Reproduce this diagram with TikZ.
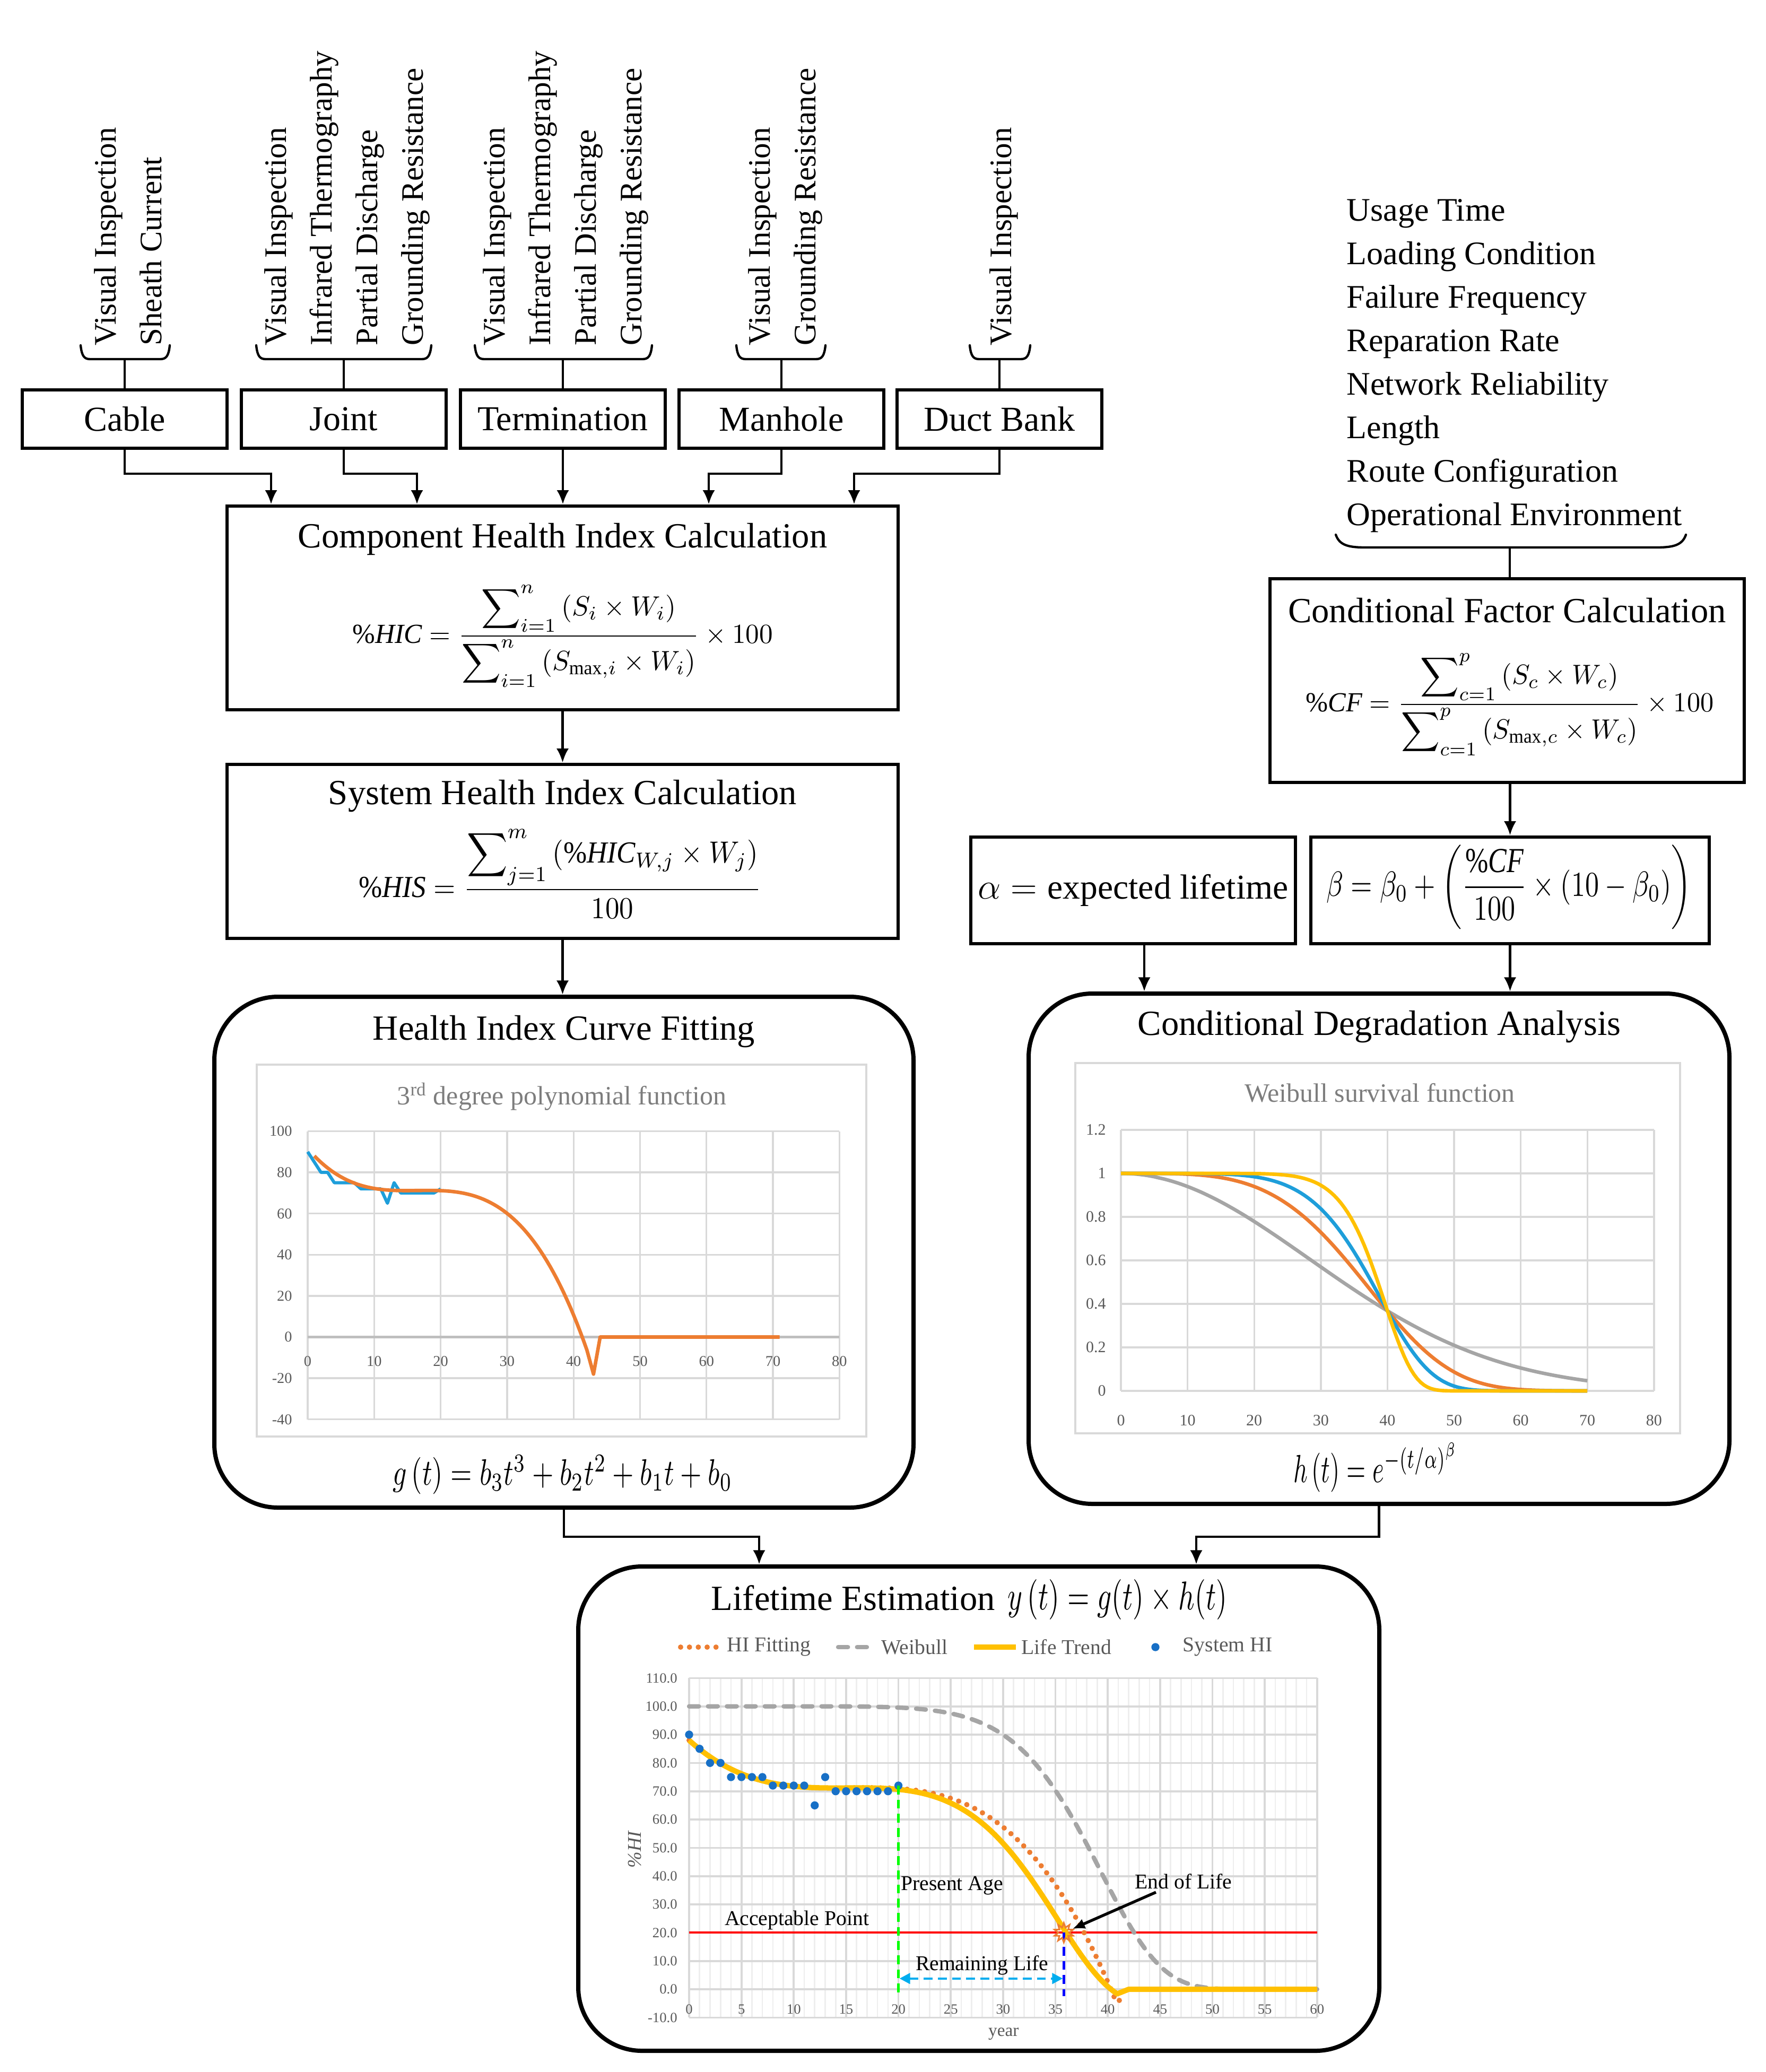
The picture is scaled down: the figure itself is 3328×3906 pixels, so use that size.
\documentclass[tikz,border=0pt]{standalone}
\usepackage{amsmath}
\usepackage{graphicx}
\usepackage{fontspec}
\setmainfont{Liberation Serif}
\usetikzlibrary{arrows.meta,shapes.geometric,calc}
\definecolor{gridc}{RGB}{217,217,217}
\definecolor{gridm}{RGB}{238,238,238}
\definecolor{axc}{RGB}{191,191,191}
\definecolor{txtg}{RGB}{89,89,89}
\definecolor{titg}{RGB}{125,125,125}
\definecolor{xlorange}{RGB}{237,125,49}
\definecolor{xlblue}{RGB}{30,158,218}
\definecolor{xlgray}{RGB}{165,165,165}
\definecolor{xlyellow}{RGB}{255,192,0}
\definecolor{dotblue}{RGB}{24,112,198}
\newcommand{\mybrace}[5]{\draw[brc] (#1,#3) .. controls (#1+0.12*#5,#4-5) and (#1+0.4*#5,#4) .. (#1+#5,#4) -- (#2-#5,#4) .. controls (#2-0.4*#5,#4) and (#2-0.12*#5,#4-5) .. (#2,#3);}
\begin{document}
\begin{tikzpicture}[x=0.3pt,y=-0.3pt,
  box/.style={draw, line width=2pt, inner sep=0pt, font=\fontsize{19.8}{24}\selectfont},
  rbox/.style={draw, line width=2.4pt, rounded corners=36pt, inner sep=0pt},
  conn/.style={line width=1.3pt},
  arr/.style={line width=1.3pt, -{Latex[length=8pt,width=7pt]}},
  brc/.style={line width=1.3pt, line cap=round},
  rot/.style={rotate=90, anchor=west, align=left, inner sep=0pt, font=\fontsize{17.7}{25.8}\selectfont},
  ttl/.style={inner sep=0pt, font=\fontsize{20}{24}\selectfont},
  ctitle/.style={inner sep=0pt, text=titg, font=\fontsize{15}{18}\selectfont},
  tickh/.style={inner sep=0pt, text=txtg, font=\fontsize{8.5}{10}\selectfont},
  ticke/.style={inner sep=0pt, text=txtg, font=\fontsize{8}{10}\selectfont},
  ann/.style={inner sep=0pt, font=\fontsize{11.9}{14}\selectfont},
  leg/.style={inner sep=0pt, text=txtg, font=\fontsize{11.9}{14}\selectfont, anchor=west},
  hifit/.style={xlorange, line width=3pt, line cap=round, dash pattern=on 0pt off 5pt},
  wbl/.style={xlgray, line width=2.5pt, line cap=round, dash pattern=on 5.5pt off 5.2pt},
  yel/.style={xlyellow, line width=3pt, line join=round},
  declare function={gf(\t)=((-0.0047083*\t+0.21875)*\t-3.34167)*\t+88;
                    wb(\t,\b)=exp(-min(9,exp(max(-9,\b*ln(max(\t,0.01)/40)))));}
]
\useasboundingbox (0,0) rectangle (3328,3906);

% ---------- top component boxes ----------
\node[box, minimum width=115.8pt, minimum height=33pt] (cable) at (235,790) {Cable};
\node[box, minimum width=115.8pt, minimum height=33pt] (joint) at (648,790) {Joint};
\node[box, minimum width=115.8pt, minimum height=33pt] (term) at (1061,790) {Termination};
\node[box, minimum width=115.8pt, minimum height=33pt] (manh) at (1473,790) {Manhole};
\node[box, minimum width=115.8pt, minimum height=33pt] (duct) at (1884,790) {Duct Bank};

% rotated inspection lists
\node[rot] (ins1) at (241,652) {Visual Inspection\\Sheath Current};
\node[rot] (ins2) at (654,652) {Visual Inspection\\Infrared Thermography\\Partial Discharge\\Grounding Resistance};
\node[rot] (ins3) at (1066,652) {Visual Inspection\\Infrared Thermography\\Partial Discharge\\Grounding Resistance};
\node[rot] (ins4) at (1480,652) {Visual Inspection\\Grounding Resistance};
\node[rot] (ins5) at (1892,652) {Visual Inspection};

\mybrace{152}{320}{651}{677}{18}
\mybrace{483}{813}{651}{677}{18}
\mybrace{895}{1229}{651}{677}{18}
\mybrace{1388}{1556}{651}{677}{18}
\mybrace{1828}{1942}{651}{677}{18}
\coordinate (bb1) at (235,677);
\coordinate (bb2) at (648,677);
\coordinate (bb3) at (1061,677);
\coordinate (bb4) at (1473,677);
\coordinate (bb5) at (1884,677);
\draw[conn] (cable.north) -- (bb1);
\draw[conn] (joint.north) -- (bb2);
\draw[conn] (term.north) -- (bb3);
\draw[conn] (manh.north) -- (bb4);
\draw[conn] (duct.north) -- (bb5);

% ---------- component HI box ----------
\node[box, minimum width=379.5pt, minimum height=115.2pt] (comp) at (1060.5,1146) {};
\node[ttl] (tcomp) at (1060.5,1016) {Component Health Index Calculation};
\node[inner sep=0pt] (fcomp) at (1061,1199) {\resizebox*{237.6pt}{57.6pt}{$\%\mathit{HIC}=\dfrac{\displaystyle\sum\nolimits_{i=1}^{n}\left(S_i\times W_i\right)}{\displaystyle\sum\nolimits_{i=1}^{n}\left(S_{\max,i}\times W_i\right)}\times 100$}};

\coordinate (c1) at (511,893);
\coordinate (c2) at (786,893);
\coordinate (c4) at (1336,893);
\coordinate (c5) at (1610,893);
\draw[arr] (cable.south) |- (c1) -- (c1 |- comp.north);
\draw[arr] (joint.south) |- (c2) -- (c2 |- comp.north);
\draw[arr] (term.south) -- (term.south |- comp.north);
\draw[arr] (manh.south) |- (c4) -- (c4 |- comp.north);
\draw[arr] (duct.south) |- (c5) -- (c5 |- comp.north);

% ---------- system HI box ----------
\node[box, minimum width=379.5pt, minimum height=98.4pt] (shi) at (1060.5,1605) {};
\node[ttl] (tshi) at (1060.5,1501) {System Health Index Calculation};
\node[inner sep=0pt] (fshi) at (1056,1647) {\resizebox*{227.7pt}{50.4pt}{$\%\mathit{HIS}=\dfrac{\displaystyle\sum\nolimits_{j=1}^{m}\left(\%\mathit{HIC}_{W,j}\times W_j\right)}{100}$}};
\draw[arr] (comp.south) -- (shi.north);

% ---------- conditional factors ----------
\node[anchor=west, align=left, inner sep=0pt, font=\fontsize{18.6}{24.6}\selectfont] (uses) at (2538,690) {Usage Time\\Loading Condition\\Failure Frequency\\Reparation Rate\\Network Reliability\\Length\\Route Configuration\\Operational Environment};
\mybrace{2518}{3178}{1008}{1032}{55}
\coordinate (ubs) at (2846,1032);

\node[box, minimum width=268.2pt, minimum height=115.2pt] (cf) at (2841,1283) {};
\node[ttl] (tcf) at (2841,1151) {Conditional Factor Calculation};
\node[inner sep=0pt] (fcf) at (2846,1328) {\resizebox*{230.7pt}{57.6pt}{$\%\mathit{CF}=\dfrac{\displaystyle\sum\nolimits_{c=1}^{p}\left(S_c\times W_c\right)}{\displaystyle\sum\nolimits_{c=1}^{p}\left(S_{\max,c}\times W_c\right)}\times 100$}};
\draw[conn] (ubs) -- (ubs |- cf.north);

\node[box, minimum width=183.6pt, minimum height=60.3pt] (alpha) at (2136,1678.5) {\resizebox{175.5pt}{!}{$\alpha=\text{expected lifetime}$}};
\node[box, minimum width=225.3pt, minimum height=60.3pt] (beta) at (2846.5,1678.5) {};
\node[inner sep=0pt] (fbeta) at (2844.5,1672.5) {\resizebox*{206.7pt}{47.7pt}{$\beta=\beta_0+\left(\dfrac{\%\mathit{CF}}{100}\times\left(10-\beta_0\right)\right)$}};
\draw[arr] (beta.north |- cf.south) -- (beta.north);

% ---------- Health Index Curve Fitting ----------
\node[rbox, minimum width=395.4pt, minimum height=288.9pt] (hicf) at (1063,2360.5) {};
\node[ttl] (thicf) at (1063,1945) {Health Index Curve Fitting};
\draw[arr] (shi.south) -- (shi.south |- hicf.north);
\draw[gridc, line width=1pt] (484,2007) rectangle (1633,2708);
\node[ctitle] (chicf) at (1059,2067) {3\textsuperscript{rd} degree polynomial function};
\begin{scope}[shift={(580,2520.5)}, x=3.759pt, y=1.164pt]
  \foreach \t in {0,10,...,80} \draw[gridc, line width=1pt] (\t,-40) -- (\t,100);
  \foreach \v in {-40,-20,20,40,60,80,100} \draw[gridc, line width=1pt] (0,\v) -- (80,\v);
  \draw[axc, line width=1.4pt] (0,0) -- (80,0);
  \foreach \v [count=\k] in {-40,-20,0,20,40,60,80,100} \node[tickh, anchor=east] (hy\k) at (-2.3,\v) {\v};
  \foreach \t [count=\k] in {0,10,...,80} \node[tickh] (hx\k) at (\t,-11.7) {\t};
  \draw[xlblue, line width=1.8pt, line join=round] (0,90) -- (1,85) -- (2,80) -- (3,80) -- (4,75) -- (5,75) -- (6,75) -- (7,75) -- (8,72) -- (9,72) -- (10,72) -- (11,72) -- (12,65) -- (13,75) -- (14,70) -- (15,70) -- (16,70) -- (17,70) -- (18,70) -- (19,70) -- (20,72);
  \draw[xlorange, line width=2pt, line join=round] plot[domain=1:42, samples=83] (\x,{gf(\x-1)}) -- (43,-18) -- (44,0) -- (71,0);
\end{scope}
\node[inner sep=0pt] (fg) at (1060.5,2780) {\resizebox*{192pt}{22.2pt}{$g\left(t\right)=b_3t^3+b_2t^2+b_1t+b_0$}};

% ---------- Conditional Degradation Analysis ----------
\node[rbox, minimum width=396.3pt, minimum height=288.6pt] (cda) at (2599.5,2354) {};
\node[ttl] (tcda) at (2600,1936) {Conditional Degradation Analysis};
\coordinate (aa) at (2157,1779);
\draw[arr] (aa) -- (aa |- cda.north);
\draw[arr] (beta.south) -- (beta.south |- cda.north);
\draw[gridc, line width=1pt] (2027,2004) rectangle (3167,2702);
\node[ctitle] (ccda) at (2601,2060) {Weibull survival function};
\begin{scope}[shift={(2113,2622)}, x=3.768pt, y=123pt]
  \foreach \t in {0,10,...,80} \draw[gridc, line width=1pt] (\t,0) -- (\t,1.2);
  \foreach \v in {0,0.2,0.4,0.6,0.8,1,1.2} \draw[gridc, line width=1pt] (0,\v) -- (80,\v);
  \foreach \v [count=\k] in {0,0.2,0.4,0.6,0.8,1,1.2} \node[tickh, font=\fontsize{9}{10}\selectfont, anchor=east] (cy\k) at (-2.2,\v) {\v};
  \foreach \t [count=\k] in {0,10,...,80} \node[tickh, font=\fontsize{9}{10}\selectfont] (cx\k) at (\t,-0.135) {\t};
  \draw[xlgray, line width=2pt] plot[domain=0:70, samples=141] (\x,{wb(\x,2)});
  \draw[xlorange, line width=2pt] plot[domain=0:70, samples=141] (\x,{wb(\x,4)});
  \draw[xlblue, line width=2pt] plot[domain=0:70, samples=141] (\x,{wb(\x,6)});
  \draw[xlyellow, line width=2pt] plot[domain=0:70, samples=141] (\x,{wb(\x,10)});
\end{scope}
\node[inner sep=0pt] (fh) at (2593,2766.5) {\resizebox*{93pt}{28pt}{$h\left(t\right)=e^{-\left(t/\alpha\right)^{\beta}}$}};

% ---------- Lifetime Estimation ----------
\node[rbox, minimum width=453pt, minimum height=273.9pt] (le) at (1845,3409.5) {};
\node[ttl, anchor=base west] (tle) at (1340,3035) {Lifetime Estimation};
\node[inner sep=0pt] (fy) at (2106.5,3015) {\resizebox*{124pt}{22.8pt}{$y\left(t\right)=g(t)\times h(t)$}};
\coordinate (e1) at (1431,2897);
\coordinate (e2) at (2255,2897);
\draw[arr] (hicf.south) |- (e1) -- (e1 |- le.north);
\draw[arr] (cda.south) |- (e2) -- (e2 |- le.north);

% legend
\draw[hifit] (1283,3105) -- (1360,3105);
\node[leg] (lg1) at (1370,3105) {HI Fitting};
\draw[wbl] (1580,3105) -- (1650,3105);
\node[leg] (lg2) at (1661,3105) {Weibull};
\draw[xlyellow, line width=3pt] (1836,3105) -- (1915,3105);
\node[leg] (lg3) at (1925,3105) {Life Trend};
\fill[dotblue] (2178,3105) circle (2.3pt);
\node[leg] (lg4) at (2229,3105) {System HI};

\begin{scope}[shift={(1299,3750)}, x=5.919pt, y=1.6pt]
  \foreach \t in {0,...,60} \draw[gridm, line width=0.8pt] (\t,-10) -- (\t,110);
  \foreach \t in {0,5,...,60} \draw[gridc, line width=1.1pt] (\t,-10) -- (\t,110);
  \foreach \v in {-10,0,...,110} \draw[gridc, line width=1.1pt] (0,\v) -- (60,\v);
  \foreach \v/\l [count=\k] in {-10/-10.0,0/0.0,10/10.0,20/20.0,30/30.0,40/40.0,50/50.0,60/60.0,70/70.0,80/80.0,90/90.0,100/100.0,110/110.0}
    \node[ticke, anchor=east] (ly\k) at (-1.1,\v) {\l};
  \foreach \t [count=\k] in {0,5,...,60} \node[ticke] (lx\k) at (\t,-7.1) {\t};
  \node[inner sep=0pt, text=txtg, font=\fontsize{10}{12}\selectfont] (lyear) at (30.05,-15.8) {year};
  \node[inner sep=0pt, text=txtg, font=\fontsize{11}{12}\selectfont, rotate=90] (lhi) at (-5.2,49.5) {\textit{\%HI}};
  % acceptable level
  \draw[red, line width=1.2pt] (0,20) -- (60,20);
  % weibull
  \draw[wbl] plot[domain=0:60, samples=150] (\x,{100*wb(\x,7.8)});
  % HI fitting
  \draw[hifit] plot[domain=0:40.8, samples=82] (\x,{gf(\x)}) -- (41.7,-3);
  % life trend
  \draw[yel] plot[domain=0:40.9, samples=120] (\x,{gf(\x)*wb(\x,7.8)}) -- (42,0) -- (60,0);
  % system HI points
  \foreach \t/\v in {0/90,1/85,2/80,3/80,4/75,5/75,6/75,7/75,8/72,9/72,10/72,11/72,12/65,13/75,14/70,15/70,16/70,17/70,18/70,19/70,20/72}
    \fill[dotblue] (\t,\v) circle (2.3pt);
  % markers
  \draw[green, line width=1.3pt, dash pattern=on 5pt off 3pt] (20,72) -- (20,-2.5);
  \draw[blue, line width=1.3pt, dash pattern=on 5pt off 3pt] (35.8,20) -- (35.8,-2.5);
  \draw[cyan, line width=1.3pt, dash pattern=on 5pt off 3pt, {Triangle[length=6pt,width=6pt]}-{Triangle[length=6pt,width=6pt]}] (20.1,3.8) -- (35.7,3.8);
  \node[star, star points=10, star point ratio=1.8, draw=xlorange, line width=0.9pt, minimum size=11pt, inner sep=0pt] (eolpt) at (35.8,20) {};
  \node[ann, anchor=west] (page) at (20.2,36.6) {Present Age};
  \node[ann] (rlife) at (27.98,8.44) {Remaining Life};
  \node[ann] (accp) at (10.29,24.4) {Acceptable Point};
  \node[ann] (eol) at (47.24,38.1) {End of Life};
  \coordinate (eoltail) at (44.6,34.3);
  \draw[line width=1.6pt, -{Latex[length=7pt,width=6pt]}] (eoltail) -- (eolpt);
\end{scope}
\end{tikzpicture}
\end{document}
